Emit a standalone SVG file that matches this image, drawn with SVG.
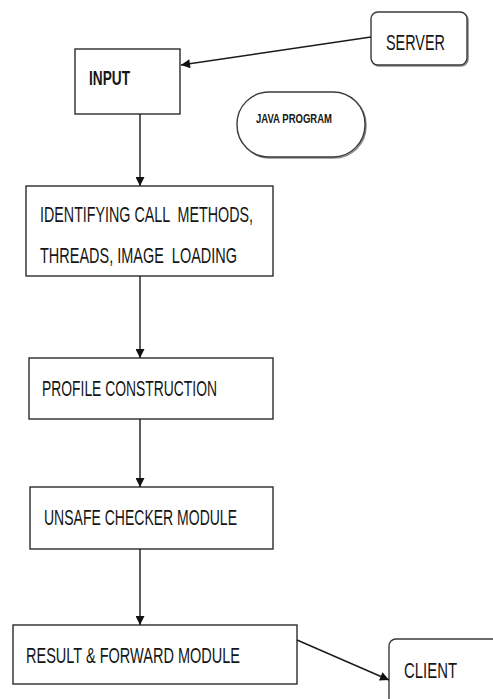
<svg xmlns="http://www.w3.org/2000/svg" width="493" height="699" viewBox="0 0 493 699">
  <style>
    .box { fill: #ffffff; stroke: #2b2b2b; stroke-width: 1.4; }
    .soft { fill: #ffffff; stroke: #3a3a3a; stroke-width: 1.4; }
    .shadow { fill: none; stroke: #8a8a8a; stroke-width: 1.6; }
    .lbl { font-family: "Liberation Sans", Arial, sans-serif; font-size: 22px; fill: #161616; white-space: pre; }
    .bold { font-weight: bold; font-size: 20px; }
    .small { font-weight: bold; font-size: 13px; }
    .wire { stroke: #1a1a1a; stroke-width: 1.4; fill: none; marker-end: url(#head); }
  </style>
  <defs>
    <marker id="head" viewBox="0 0 10 10" refX="10" refY="5" markerWidth="11" markerHeight="9" markerUnits="userSpaceOnUse" orient="auto">
      <path d="M0,0 L10,5 L0,10 z" fill="#111111"/>
    </marker>
  </defs>
  <rect width="493" height="699" fill="#ffffff"/>

  <g id="server">
    <rect class="shadow" x="372" y="13" width="96" height="53" rx="7"/>
    <rect class="soft" x="371" y="12" width="96" height="53" rx="7"/>
    <text class="lbl" x="386" y="50" textLength="59" lengthAdjust="spacingAndGlyphs">SERVER</text>
  </g>

  <g id="input">
    <rect class="box" x="75" y="49" width="105" height="65"/>
    <text class="lbl bold" x="89" y="85" textLength="41" lengthAdjust="spacingAndGlyphs">INPUT</text>
  </g>

  <g id="java-program">
    <rect class="shadow" x="238" y="93" width="128" height="65" rx="32"/>
    <rect class="soft" x="237" y="92" width="128" height="65" rx="32"/>
    <text class="lbl small" x="256" y="123" textLength="76" lengthAdjust="spacingAndGlyphs">JAVA PROGRAM</text>
  </g>

  <g id="identifying">
    <rect class="box" x="26" y="186" width="247" height="90"/>
    <text class="lbl" x="40" y="222" textLength="213" lengthAdjust="spacingAndGlyphs">IDENTIFYING CALL  METHODS,</text>
    <text class="lbl" x="40" y="263" textLength="197" lengthAdjust="spacingAndGlyphs">THREADS, IMAGE  LOADING</text>
  </g>

  <g id="profile">
    <rect class="box" x="29" y="358" width="244" height="61"/>
    <text class="lbl" x="42" y="396" textLength="175" lengthAdjust="spacingAndGlyphs">PROFILE CONSTRUCTION</text>
  </g>

  <g id="unsafe-checker">
    <rect class="box" x="30" y="487" width="243" height="62"/>
    <text class="lbl" x="44" y="525" textLength="193" lengthAdjust="spacingAndGlyphs">UNSAFE CHECKER MODULE</text>
  </g>

  <g id="result-forward">
    <rect class="box" x="13" y="625" width="284" height="59"/>
    <text class="lbl" x="26" y="663" textLength="214" lengthAdjust="spacingAndGlyphs">RESULT &amp; FORWARD MODULE</text>
  </g>

  <g id="client">
    <rect class="shadow" x="390" y="640" width="110" height="75" rx="7"/>
    <rect class="soft" x="389" y="639" width="110" height="75" rx="7"/>
    <text class="lbl" x="404" y="678" textLength="53" lengthAdjust="spacingAndGlyphs">CLIENT</text>
  </g>

  <g id="connectors">
    <line class="wire" x1="371" y1="37" x2="181" y2="65"/>
    <line class="wire" x1="140" y1="114" x2="140" y2="186"/>
    <line class="wire" x1="140" y1="276" x2="140" y2="358"/>
    <line class="wire" x1="140" y1="419" x2="140" y2="487"/>
    <line class="wire" x1="140" y1="549" x2="140" y2="625"/>
    <line class="wire" x1="297" y1="640" x2="389" y2="680"/>
  </g>
</svg>
